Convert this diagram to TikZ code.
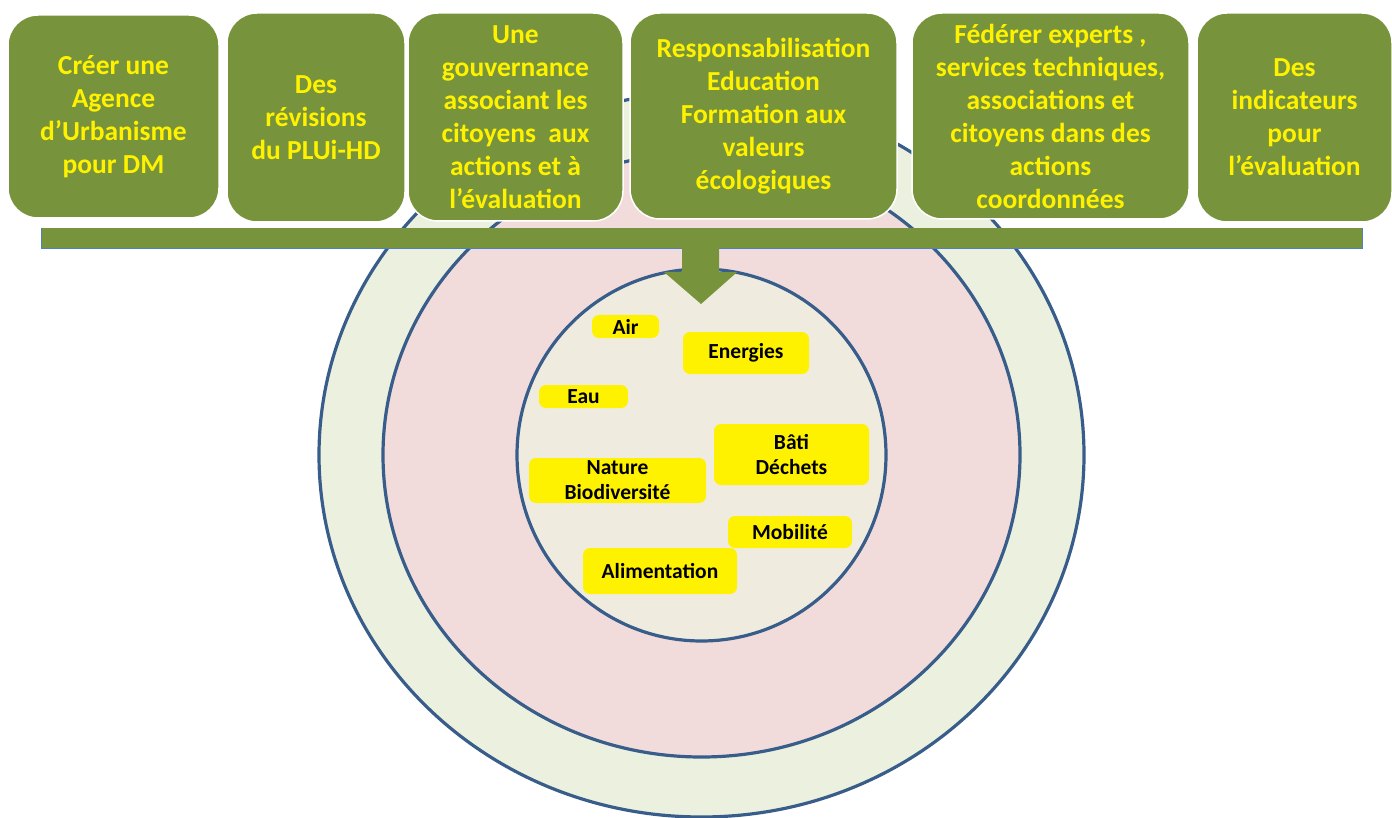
\documentclass[tikz,border=0pt]{standalone}
\usepackage{fontspec}
\setmainfont{Carlito}
\usepackage{tikz}

\definecolor{olivebox}{RGB}{119,147,60}
\definecolor{ringblue}{RGB}{56,93,138}
\definecolor{barblue}{RGB}{79,129,189}
\definecolor{outerfill}{RGB}{235,241,222}
\definecolor{midfill}{RGB}{242,220,219}
\definecolor{innerfill}{RGB}{239,236,223}

\tikzset{
	ring/.style={draw=ringblue,line width=3.2pt},
	actbox/.style={rounded corners=30pt,fill=olivebox,draw=white,line width=1.5pt,text=yellow,
		font=\bfseries\fontsize{27.5}{33}\selectfont,align=center,inner sep=0pt},
	tagbox/.style={rounded corners=7pt,fill=yellow,inner sep=0pt,align=center,
		font=\bfseries\fontsize{21.5}{25}\selectfont},
	barnode/.style={fill=olivebox,inner sep=0pt,minimum width=1320pt,minimum height=20pt}
}

\begin{document}
\begin{tikzpicture}[x=1pt,y=-1pt]
	\useasboundingbox (0,0) rectangle (1392,818);
	\draw[ring,fill=outerfill] (701.5,455) ellipse [x radius=382.5pt,y radius=362pt];
	\draw[ring,fill=midfill] (701.5,455) ellipse [x radius=318.5pt,y radius=302pt];
	\draw[ring,fill=innerfill] (701.5,455) ellipse [x radius=184.5pt,y radius=186pt];

	\node[barnode] (bar) at (702,238) {};
	\draw[barblue,line width=1pt] (bar.north west) |- (bar.south east) -- (bar.north east);
	\coordinate (tip) at (701,304);
	\fill[olivebox] (tip) -- ++(-37,-32) -- ++(18,0) |- (bar.south) -- ++(17,0) -- ++(0,24) -- ++(18,0) -- cycle;

	\node[actbox,minimum width=211pt,minimum height=203pt] (agence) at (113.5,116.5) {Créer une\\Agence\\d’Urbanisme\\pour DM};
	\node[actbox,minimum width=178pt,minimum height=209pt] (revision) at (316,117.5) {Des\\révisions\\du PLUi-HD};
	\node[actbox,minimum width=215pt,minimum height=208pt] (gouvernance) at (515.5,117) {Une\\gouvernance\\associant les\\citoyens~ aux\\actions et à\\l’évaluation};
	\node[actbox,minimum width=267pt,minimum height=206pt] (education) at (763.5,116) {Responsabilisation\\Education\\Formation aux\\valeurs\\écologiques};
	\node[actbox,minimum width=277pt,minimum height=206pt] (federer) at (1050.5,116) {Fédérer experts ,\\services techniques,\\associations et\\citoyens dans des\\actions\\coordonnées};
	\node[actbox,minimum width=195pt,minimum height=209pt] (indicateur) at (1294.5,117.5) {Des\\indicateurs\\pour\\l’évaluation};

	\node[tagbox,minimum width=67pt,minimum height=23pt] (air) at (625.5,326.5) {Air};
	\node[tagbox,minimum width=126pt,minimum height=42pt] (energie) at (746,353) {Energies};
	\node[tagbox,minimum width=89pt,minimum height=23pt] (eau) at (583.5,396.5) {Eau};
	\node[tagbox,minimum width=155pt,minimum height=61pt] (bati) at (791.5,454.5) {Bâti\\Déchets};
	\node[tagbox,minimum width=177pt,minimum height=45pt] (nature) at (617.5,480.5) {Nature\\Biodiversité};
	\node[tagbox,minimum width=124pt,minimum height=32pt] (mobilite) at (790,532) {Mobilité};
	\node[tagbox,minimum width=154pt,minimum height=46pt] (alim) at (660,571) {Alimentation};
\end{tikzpicture}
\end{document}
